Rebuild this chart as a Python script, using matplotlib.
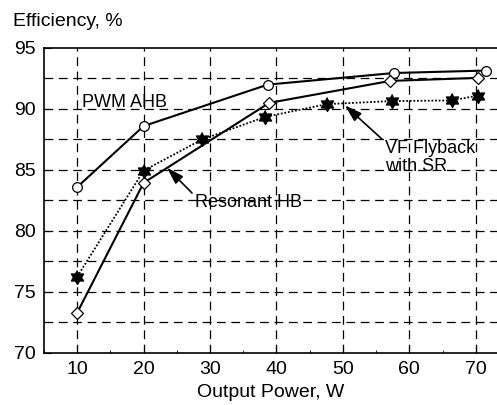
import matplotlib

matplotlib.use("Agg")
import matplotlib.pyplot as plt  # noqa: E402
from matplotlib.ticker import MultipleLocator  # noqa: E402
import numpy as np  # noqa: E402

plt.rcParams["font.family"] = ["Liberation Sans", "DejaVu Sans"]

# PWM AHB (open circles, solid)
pwm_x = [10, 20, 38.7, 57.7, 71.5]
pwm_y = [83.6, 88.6, 92.0, 92.95, 93.15]

# Resonant HB (open diamonds, solid)
res_x = [10, 20, 38.9, 57.1, 70.3]
res_y = [73.3, 83.95, 90.5, 92.3, 92.55]

# VF Flyback with SR (stars, dotted)
vf_x = [10, 20, 28.8, 38.3, 47.6, 57.4, 66.4, 70.3]
vf_y = [76.25, 84.95, 87.5, 89.35, 90.4, 90.65, 90.7, 91.1]

x_ticks = [10, 20, 30, 40, 50, 60, 70]
y_ticks = [70, 75, 80, 85, 90, 95]
y_grid = [72.5, 75, 77.5, 80, 82.5, 85, 87.5, 90, 92.5]

# six-pointed star (hexagram) marker shape
ang = np.pi / 2 + np.arange(12) * np.pi / 6
rad = np.where(np.arange(12) % 2 == 0, 1.0, 0.577)
hexagram = list(zip(rad * np.cos(ang), rad * np.sin(ang)))

fig = plt.figure(figsize=(4.97, 4.05), dpi=100)
ax = fig.add_axes([0.0885, 0.1284, 0.9115, 0.7531])

dash = (0, (7, 4.5))
for gx in x_ticks:
    ax.axvline(gx, color="black", lw=0.9, ls=dash, zorder=1)
for gy in y_grid:
    ax.axhline(gy, color="black", lw=0.9, ls=dash, zorder=1)

ax.plot(pwm_x, pwm_y, color="black", lw=1.5, marker="o", ms=7,
        mfc="white", mec="black", mew=0.9, zorder=3)
ax.plot(res_x, res_y, color="black", lw=1.5, marker="D", ms=6.5,
        mfc="white", mec="black", mew=0.9, zorder=3)
ax.plot(vf_x, vf_y, color="black", lw=1.3, ls=(0, (1, 1)), marker=hexagram,
        ms=10, mfc="black", mec="black", zorder=4)

ax.set_xlim(5, 73.2)
ax.set_ylim(70, 95)
ax.set_xticks(x_ticks)
ax.set_yticks(y_ticks)
ax.xaxis.set_minor_locator(MultipleLocator(5))
ax.tick_params(which="major", direction="in", length=5, labelsize=14,
               colors="black", pad=6)
ax.tick_params(which="minor", direction="in", length=2.5)
ax.tick_params(axis="y", which="minor", left=False)
ax.spines["right"].set_visible(False)
for s in ("left", "bottom", "top"):
    ax.spines[s].set_linewidth(1.2)

fig.text(0.026, 0.948, "Efficiency, %", fontsize=14, va="center", ha="left")
ax.set_xlabel("Output Power, W", fontsize=14, labelpad=4)

ax.text(10.75, 90.5, "PWM AHB", fontsize=13, va="center", ha="left", zorder=5)
ax.annotate("Resonant HB", xy=(23.5, 85.2), xytext=(27.7, 82.3),
            fontsize=13, va="center", ha="left", zorder=5,
            arrowprops=dict(arrowstyle="-|>,head_length=0.8,head_width=0.25",
                            color="black", lw=1.2, shrinkA=0, shrinkB=0,
                            relpos=(0.05, 0.6)))
ax.annotate("VF Flyback\nwith SR", xy=(50.3, 90.3), xytext=(56.3, 86.05),
            fontsize=13, va="center", ha="left", linespacing=1.05, zorder=5,
            arrowprops=dict(arrowstyle="-|>,head_length=0.8,head_width=0.25",
                            color="black", lw=1.2, shrinkA=0, shrinkB=0,
                            relpos=(0.0, 0.95)))

fig.savefig("out.png", dpi=100)
